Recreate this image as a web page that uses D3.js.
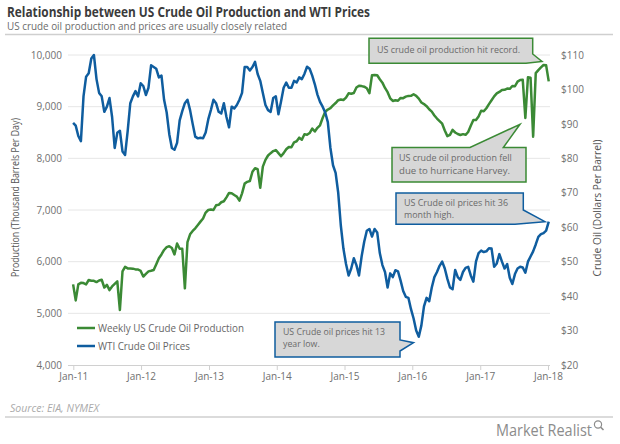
<!DOCTYPE html>
<html><head><meta charset="utf-8">
<script src="https://cdn.jsdelivr.net/npm/d3@7"></script>
<style>body{margin:0;background:#fff}svg{display:block}text{font-family:"Open Sans",Lato,sans-serif}</style>
</head><body>
<svg id="c" width="620" height="444"></svg>
<script>
// ---------- DATA (biweekly observations starting 2010-12-31) ----------
const startDate = "2010-12-31";
const stepDays = 14;
const production = [
 5560,5250,5560,5590,5585,5560,5645,5630,5630,5605,
 5635,5650,5500,5550,5450,5520,5570,5620,5064,5810,
 5900,5870,5870,5865,5850,5848,5820,5712,5765,5812,
 5825,5840,5950,6065,6140,6226,6280,6300,6265,6140,
 6350,6250,6250,5484,6380,6530,6595,6645,6710,6775,
 6835,6950,7000,7010,7000,7090,7100,7150,7170,7245,
 7330,7325,7290,7260,7180,7322,7510,7545,7560,7740,
 7810,7790,7430,7840,7970,8055,8100,8140,8160,8100,
 8040,8100,8175,8220,8215,8310,8330,8400,8360,8465,
 8455,8490,8575,8520,8590,8640,8780,8903,8945,8970,
 9025,9070,9125,9140,9130,9175,9258,9250,9265,9370,
 9405,9398,9387,9357,9260,9610,9613,9608,9530,9465,
 9362,9280,9161,9110,9125,9115,9170,9165,9194,9208,
 9210,9240,9210,9155,9080,9050,9010,8950,8905,8830,
 8770,8720,8670,8540,8430,8455,8550,8500,8470,8452,
 8468,8455,8510,8630,8740,8740,8810,8920,8910,8970,
 9050,9125,9200,9256,9285,9323,9327,9350,9345,9400,
 9395,9484,9516,9520,8780,9570,9560,8420,9650,9708,
 9760,9806,9800,9490];
const wtiPrice = [
 90.3,89.5,86.5,85,98,103.7,104.7,109,110,103,
 99,98,93.5,95,97.5,92,83,87.4,88,82,
 81,88,96,98,99.5,98,101.8,101,98.4,100.5,
 107,106.5,106,103.5,104,97,93.3,87,83,82.5,
 84.5,91,93.7,96,97,94,90,86.3,85.8,86,
 85.8,87.5,91.3,94,97,96,93.5,93,96,92,
 89,95,94.5,95.5,97,99,106.5,106.5,105.5,106.5,
 108,104.5,102.5,99,95.5,94,93.5,97.5,98,92.8,
 96.5,100.5,102,100.5,100.5,102.5,102,103.5,103,104.5,
 106.6,106,104,101.5,98.5,96.4,95,93.3,90.5,83,
 78,75.8,70,60.5,53.8,49.3,46,48,51,49,
 46,51.5,55.8,59,59.5,57.3,59.5,58.5,52.5,49,
 47,42.5,46.6,45.5,47.5,47.2,44.5,41.5,39.8,39.5,
 36.2,33.5,30,28.2,31.5,37,39.5,38.5,42.5,45.5,
 47,48.8,50,48,45,42.5,42,47.6,45.5,44.7,
 47,48.2,48.5,46,44.2,50,52.5,53.2,52.8,53,
 53.9,53.8,48.5,49.5,52.2,50,48,49.3,45.3,43.5,
 46.4,48,48.5,48.3,46.8,50,51.5,53,55,57.2,
 58,58.3,59,61.6];
const xTickLabels = ["Jan-11","Jan-12","Jan-13","Jan-14","Jan-15","Jan-16","Jan-17","Jan-18"];
const leftTicks = [4000,5000,6000,7000,8000,9000,10000];
const rightTicks = [20,30,40,50,60,70,80,90,100,110];
const seriesNames = ["Weekly US Crude Oil Production","WTI Crude Oil Prices"];
const noteTexts = [
  ["US crude oil production hit record."],
  ["US crude oil production fell","due to hurricane Harvey."],
  ["US Crude oil prices hit 36","month high."],
  ["US Crude oil prices hit 13","year low."]
];
const titleText = "Relationship between US Crude Oil Production and WTI Prices";
const subtitleText = "US crude oil production and prices are usually closely related";
const leftTitle = "Production (Thousand  Barrels Per Day)";
const rightTitle = "Crude Oil (Dollars Per Barrel)";
const sourceText = "Source: EIA, NYMEX";

// ---------- STYLE / LAYOUT ----------
const GREEN = "#3b8a35", BLUE = "#0f5d9f";
const COMPACT = "'Liberation Sans',Arimo,Arial,sans-serif";
const svg = d3.select("#c");
const parse = d3.timeParse("%Y-%m-%d");
const t0 = parse(startDate);
const dates = production.map((_, i) => d3.timeDay.offset(t0, i * stepDays));
const tickDates = xTickLabels.map(s => d3.timeParse("%b-%y")(s));

const x = d3.scaleTime().domain([tickDates[0], tickDates[tickDates.length-1]]).range([73.3, 548]);
const yL = d3.scaleLinear().domain([4000, 10000]).range([365, 55]);
const yR = d3.scaleLinear().domain([20, 110]).range([365, 55]);

function fit(sel, w) { sel.attr("textLength", w).attr("lengthAdjust", "spacingAndGlyphs"); return sel; }

// header
fit(svg.append("text").attr("x", 7).attr("y", 16.6).attr("font-size", 14).attr("font-weight", 700)
  .attr("font-family", COMPACT).attr("fill", "#3b3b3b").text(titleText), 363);
fit(svg.append("text").attr("x", 7).attr("y", 30.2).attr("font-size", 10).attr("font-family", COMPACT)
  .attr("fill", "#6b6b6b").text(subtitleText), 280);
svg.append("line").attr("x1", 5).attr("x2", 613).attr("y1", 34.5).attr("y2", 34.5)
  .attr("stroke", "#cfcfcf").attr("stroke-width", 1.5);

// gridlines
svg.append("g").selectAll("line").data(leftTicks.slice(1)).join("line")
  .attr("x1", 68).attr("x2", 550).attr("y1", d => yL(d)).attr("y2", d => yL(d))
  .attr("stroke", "#e6e6e6").attr("stroke-width", 1);

// bottom axis
const gx = svg.append("g").attr("transform", "translate(0,365)")
  .call(d3.axisBottom(x).tickValues(tickDates).tickFormat(d3.timeFormat("%b-%y")).tickSize(5).tickPadding(3).tickSizeOuter(0));
gx.select(".domain").attr("stroke", "#d0d0d0").attr("d", "M68,0.5H550");
gx.selectAll(".tick line").attr("stroke", "#d0d0d0");
gx.selectAll("text").attr("font-size", 10).attr("fill", "#707070").attr("font-family", "Open Sans");

// left axis
const gl = svg.append("g").attr("transform", "translate(68,0)")
  .call(d3.axisLeft(yL).tickValues(leftTicks).tickFormat(d3.format(",")).tickSize(0).tickPadding(6));
gl.select(".domain").remove();
gl.selectAll("text").attr("font-size", 10).attr("fill", "#707070").attr("font-family", "Open Sans");

// right axis
const gr = svg.append("g").attr("transform", "translate(550,0)")
  .call(d3.axisRight(yR).tickValues(rightTicks).tickFormat(d => "$" + d).tickSize(0).tickPadding(11));
gr.select(".domain").remove();
gr.selectAll("text").attr("font-size", 10).attr("fill", "#707070").attr("font-family", "Open Sans");

// axis titles
fit(svg.append("text").attr("transform", "translate(18.5,197.5) rotate(-90)").attr("text-anchor", "middle")
  .attr("font-size", 10.5).attr("fill", "#555").text(leftTitle), 159);
fit(svg.append("text").attr("transform", "translate(601,208) rotate(-90)").attr("text-anchor", "middle")
  .attr("font-size", 10.5).attr("fill", "#555").text(rightTitle), 137);

// lines
const lineL = d3.line().x((d, i) => x(dates[i])).y(d => yL(d));
const lineR = d3.line().x((d, i) => x(dates[i])).y(d => yR(d));
svg.append("path").datum(production).attr("d", lineL).attr("fill", "none")
  .attr("stroke", GREEN).attr("stroke-width", 2.5).attr("stroke-linejoin", "round");
svg.append("path").datum(wtiPrice).attr("d", lineR).attr("fill", "none")
  .attr("stroke", BLUE).attr("stroke-width", 2.5).attr("stroke-linejoin", "round");

// legend
const legW = [146, 92];
const leg = svg.append("g").selectAll("g").data(seriesNames).join("g")
  .attr("transform", (d, i) => `translate(77,${328 + i * 18})`);
leg.append("line").attr("x1", 0).attr("x2", 18).attr("stroke", (d, i) => i ? BLUE : GREEN).attr("stroke-width", 2.5);
leg.append("text").attr("x", 21).attr("dy", "0.36em").attr("font-size", 11.5).attr("fill", "#666")
  .text(d => d).each(function(d, i) { fit(d3.select(this), legW[i]); });

// callouts
const callouts = [
  {c: GREEN, pts: [[369,38.3],[532.7,38.3],[532.7,54],[542,61.5],[526,63.3],[369,63.3]],
   tx: 377, ty: [49.5], w: [143]},
  {c: GREEN, pts: [[392,147.5],[470,147.5],[520,124.3],[503.3,147.5],[526,147.5],[526,182],[392,182]],
   tx: 399, ty: [157.5, 171], w: [112.7, 111]},
  {c: BLUE, pts: [[396,193],[523.3,193],[523.3,210],[545,221.7],[515,224.3],[396,224.3]],
   tx: 404, ty: [202.3, 215], w: [104, 50]},
  {c: BLUE, pts: [[275,322],[400,322],[400,340],[413.5,342.7],[400,351],[400,357],[275,357]],
   tx: 283, ty: [331.3, 344], w: [102, 36.7]}
];
callouts.forEach((co, k) => {
  svg.append("path").attr("d", "M" + co.pts.map(p => p.join(",")).join("L") + "Z")
    .attr("fill", "#d7d7d7").attr("stroke", co.c).attr("stroke-width", 1.5).attr("stroke-linejoin", "miter");
  noteTexts[k].forEach((s, j) => {
    fit(svg.append("text").attr("x", co.tx).attr("y", co.ty[j]).attr("dy", "0.35em")
      .attr("font-size", 9.5).attr("font-family", COMPACT).attr("fill", "#6a6a6a").text(s), co.w[j]);
  });
});

// footer
fit(svg.append("text").attr("x", 10).attr("y", 408).attr("dy", "0.35em").attr("font-size", 10)
  .attr("font-style", "italic").attr("fill", "#aaa").text(sourceText), 89);
svg.append("line").attr("x1", 5).attr("x2", 613).attr("y1", 417).attr("y2", 417)
  .attr("stroke", "#cfcfcf").attr("stroke-width", 1.5);
fit(svg.append("text").attr("x", 592).attr("y", 435.5).attr("text-anchor", "end").attr("font-size", 17)
  .attr("fill", "#8c8c8c").text("Market Realist"), 96);
svg.append("circle").attr("cx", 598).attr("cy", 424.5).attr("r", 3.6).attr("fill", "none")
  .attr("stroke", "#8c8c8c").attr("stroke-width", 1.2);
svg.append("line").attr("x1", 600.6).attr("y1", 427.1).attr("x2", 603.5).attr("y2", 430)
  .attr("stroke", "#8c8c8c").attr("stroke-width", 1.5);
</script>
</body></html>
